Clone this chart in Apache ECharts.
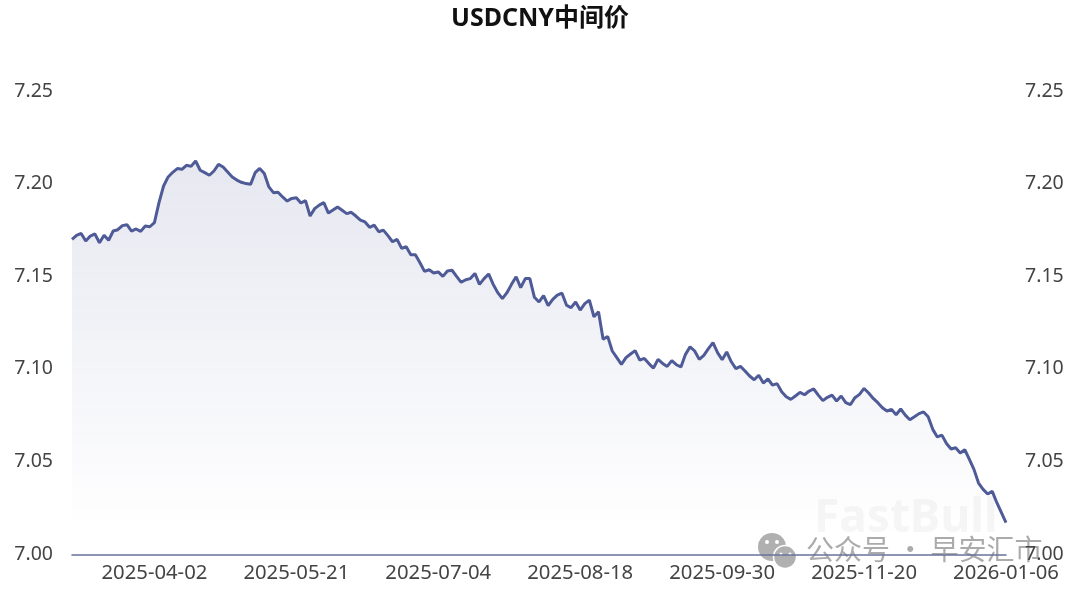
<!DOCTYPE html>
<html>
<head>
<meta charset="utf-8">
<title>USDCNY中间价</title>
<script src="https://cdn.jsdelivr.net/npm/echarts@6/dist/echarts.min.js"></script>
<style>
html, body { margin: 0; padding: 0; background: #fff; }
#chart { width: 1080px; height: 595px; }
</style>
</head>
<body>
<div id="chart"></div>
<script>
var arrDates = [
    '2025-03-07', '2025-03-10', '2025-03-11', '2025-03-12', '2025-03-13', '2025-03-14',
    '2025-03-17', '2025-03-18', '2025-03-19', '2025-03-20', '2025-03-21',
    '2025-03-24', '2025-03-25', '2025-03-26', '2025-03-27', '2025-03-28',
    '2025-03-31', '2025-04-01', '2025-04-02', '2025-04-03',
    '2025-04-07', '2025-04-08', '2025-04-09', '2025-04-10', '2025-04-11',
    '2025-04-14', '2025-04-15', '2025-04-16', '2025-04-17', '2025-04-18',
    '2025-04-21', '2025-04-22', '2025-04-23', '2025-04-24', '2025-04-25',
    '2025-04-28', '2025-04-29', '2025-04-30',
    '2025-05-06', '2025-05-07', '2025-05-08', '2025-05-09',
    '2025-05-12', '2025-05-13', '2025-05-14', '2025-05-15', '2025-05-16',
    '2025-05-19', '2025-05-20', '2025-05-21', '2025-05-22', '2025-05-23',
    '2025-05-26', '2025-05-27', '2025-05-28', '2025-05-29', '2025-05-30',
    '2025-06-03', '2025-06-04', '2025-06-05', '2025-06-06',
    '2025-06-09', '2025-06-10', '2025-06-11', '2025-06-12', '2025-06-13',
    '2025-06-16', '2025-06-17', '2025-06-18', '2025-06-19', '2025-06-20',
    '2025-06-23', '2025-06-24', '2025-06-25', '2025-06-26', '2025-06-27',
    '2025-06-30', '2025-07-01', '2025-07-02', '2025-07-03', '2025-07-04',
    '2025-07-07', '2025-07-08', '2025-07-09', '2025-07-10', '2025-07-11',
    '2025-07-14', '2025-07-15', '2025-07-16', '2025-07-17', '2025-07-18',
    '2025-07-21', '2025-07-22', '2025-07-23', '2025-07-24', '2025-07-25',
    '2025-07-28', '2025-07-29', '2025-07-30', '2025-07-31', '2025-08-01',
    '2025-08-04', '2025-08-05', '2025-08-06', '2025-08-07', '2025-08-08',
    '2025-08-11', '2025-08-12', '2025-08-13', '2025-08-14', '2025-08-15',
    '2025-08-18', '2025-08-19', '2025-08-20', '2025-08-21', '2025-08-22',
    '2025-08-25', '2025-08-26', '2025-08-27', '2025-08-28', '2025-08-29',
    '2025-09-01', '2025-09-02', '2025-09-03', '2025-09-04', '2025-09-05',
    '2025-09-08', '2025-09-09', '2025-09-10', '2025-09-11', '2025-09-12',
    '2025-09-15', '2025-09-16', '2025-09-17', '2025-09-18', '2025-09-19',
    '2025-09-22', '2025-09-23', '2025-09-24', '2025-09-25', '2025-09-26',
    '2025-09-29', '2025-09-30', '2025-10-09', '2025-10-10',
    '2025-10-13', '2025-10-14', '2025-10-15', '2025-10-16', '2025-10-17',
    '2025-10-20', '2025-10-21', '2025-10-22', '2025-10-23', '2025-10-24',
    '2025-10-27', '2025-10-28', '2025-10-29', '2025-10-30', '2025-10-31',
    '2025-11-03', '2025-11-04', '2025-11-05', '2025-11-06', '2025-11-07',
    '2025-11-10', '2025-11-11', '2025-11-12', '2025-11-13', '2025-11-14',
    '2025-11-17', '2025-11-18', '2025-11-19', '2025-11-20', '2025-11-21',
    '2025-11-24', '2025-11-25', '2025-11-26', '2025-11-27', '2025-11-28',
    '2025-12-01', '2025-12-02', '2025-12-03', '2025-12-04', '2025-12-05',
    '2025-12-08', '2025-12-09', '2025-12-10', '2025-12-11', '2025-12-12',
    '2025-12-15', '2025-12-16', '2025-12-17', '2025-12-18', '2025-12-19',
    '2025-12-22', '2025-12-23', '2025-12-24', '2025-12-25', '2025-12-26',
    '2025-12-29', '2025-12-30', '2025-12-31', '2026-01-05', '2026-01-06'
];
var arrFixing = [
    7.1699, 7.1721, 7.1731, 7.1690, 7.1717, 7.1728, 7.1681, 7.1721, 7.1694, 7.1744,
    7.1751, 7.1773, 7.1778, 7.1744, 7.1755, 7.1742, 7.1771, 7.1767, 7.1789, 7.1897,
    7.1987, 7.2036, 7.2061, 7.2081, 7.2077, 7.2099, 7.2093, 7.2122, 7.2072, 7.2059,
    7.2045, 7.2068, 7.2104, 7.2090, 7.2063, 7.2036, 7.2019, 7.2007, 7.2000, 7.1996,
    7.2059, 7.2082, 7.2055, 7.1982, 7.1951, 7.1953, 7.1928, 7.1906, 7.1920, 7.1924,
    7.1895, 7.1908, 7.1825, 7.1865, 7.1884, 7.1897, 7.1841, 7.1857, 7.1874, 7.1856,
    7.1838, 7.1845, 7.1825, 7.1803, 7.1793, 7.1764, 7.1776, 7.1740, 7.1749, 7.1719,
    7.1686, 7.1699, 7.1650, 7.1659, 7.1616, 7.1616, 7.1573, 7.1526, 7.1535, 7.1517,
    7.1523, 7.1499, 7.1528, 7.1532, 7.1499, 7.1467, 7.1481, 7.1487, 7.1515, 7.1456,
    7.1487, 7.1512, 7.1456, 7.1411, 7.1379, 7.1411, 7.1456, 7.1497, 7.1438, 7.1487,
    7.1487, 7.1386, 7.1361, 7.1395, 7.1341, 7.1375, 7.1398, 7.1409, 7.1344, 7.1330,
    7.1361, 7.1317, 7.1352, 7.1371, 7.1281, 7.1308, 7.1159, 7.1175, 7.1096, 7.1060,
    7.1024, 7.1060, 7.1080, 7.1098, 7.1047, 7.1056, 7.1028, 7.1004, 7.1051, 7.1029,
    7.1013, 7.1044, 7.1022, 7.1010, 7.1078, 7.1119, 7.1096, 7.1051, 7.1073, 7.1109,
    7.1141, 7.1087, 7.1049, 7.1091, 7.1038, 7.1001, 7.1013, 7.0988, 7.0961, 7.0941,
    7.0965, 7.0923, 7.0945, 7.0912, 7.0920, 7.0876, 7.0849, 7.0835, 7.0853, 7.0873,
    7.0860, 7.0880, 7.0891, 7.0858, 7.0828, 7.0846, 7.0858, 7.0826, 7.0853, 7.0817,
    7.0806, 7.0844, 7.0862, 7.0894, 7.0869, 7.0840, 7.0817, 7.0790, 7.0772, 7.0781,
    7.0752, 7.0783, 7.0750, 7.0725, 7.0741, 7.0758, 7.0767, 7.0741, 7.0673, 7.0632,
    7.0642, 7.0597, 7.0567, 7.0574, 7.0545, 7.0563, 7.0511, 7.0457, 7.0383, 7.0349,
    7.0324, 7.0338, 7.0277, 7.0223, 7.0169
];
var arrLabelDates = ['2025-04-02', '2025-05-21', '2025-07-04', '2025-08-18', '2025-09-30', '2025-11-20', '2026-01-06'];

var strFont = '"Noto Sans", "Noto Sans CJK SC", sans-serif';
var strLineColor = '#4f5b97';

var _yAxis = function (strPos, iMargin) {
    return {
        type: 'value',
        position: strPos,
        min: 7,
        max: 7.25,
        interval: 0.05,
        axisLine: { show: false },
        axisTick: { show: false },
        splitLine: { show: false },
        axisLabel: {
            margin: iMargin,
            padding: [2, 0, 0, 0],
            color: '#444',
            fontFamily: strFont,
            fontSize: 19.5,
            formatter: function (v) { return v.toFixed(2); }
        }
    };
};

var oChart = echarts.init(document.getElementById('chart'));
oChart.setOption({
    animation: false,
    title: {
        text: 'USDCNY中间价',
        left: 'center',
        top: 1,
        textStyle: { color: '#111', fontFamily: strFont, fontSize: 25, fontWeight: 'bold' }
    },
    grid: { left: 72, right: 74, top: 91, bottom: 41 },
    xAxis: {
        type: 'category',
        boundaryGap: false,
        data: arrDates,
        offset: 1,
        axisLine: { lineStyle: { color: '#67739b', width: 1.5 } },
        axisTick: { show: false },
        splitLine: { show: false },
        axisLabel: {
            color: '#444',
            fontFamily: strFont,
            fontSize: 20.3,
            margin: 8,
            interval: function (idx, val) { return arrLabelDates.indexOf(val) >= 0; }
        }
    },
    yAxis: [_yAxis('left', 19), _yAxis('right', 19)],
    series: [{
        name: 'USDCNY中间价',
        type: 'line',
        data: arrFixing,
        symbol: 'none',
        smooth: false,
        lineStyle: { color: strLineColor, width: 3 },
        areaStyle: {
            color: new echarts.graphic.LinearGradient(0, 0, 0, 1, [
                { offset: 0, color: 'rgba(79,91,151,0.2)' },
                { offset: 0.95, color: 'rgba(79,91,151,0)' }
            ])
        }
    }],
    // 水印
    graphic: [
        {
            type: 'text', left: 814, top: 496, silent: true,
            style: { text: 'FastBull', fill: '#f6f6f6', font: 'bold 46px "Noto Sans", sans-serif' }
        },
        {
            type: 'circle', silent: true, shape: { cx: 772, cy: 547, r: 14 },
            style: { fill: '#b0b0b0' }
        },
        {
            type: 'circle', silent: true, shape: { cx: 785, cy: 557, r: 11.5 },
            style: { fill: '#b0b0b0', stroke: '#fff', lineWidth: 1.5 }
        },
        { type: 'circle', silent: true, shape: { cx: 767, cy: 542, r: 2 }, style: { fill: '#fff' } },
        { type: 'circle', silent: true, shape: { cx: 777, cy: 542, r: 2 }, style: { fill: '#fff' } },
        { type: 'circle', silent: true, shape: { cx: 781, cy: 554, r: 1.6 }, style: { fill: '#fff' } },
        { type: 'circle', silent: true, shape: { cx: 790, cy: 554, r: 1.6 }, style: { fill: '#fff' } },
        {
            type: 'text', left: 806, top: 535, silent: true,
            style: { text: '公众号 · 早安汇市', fill: 'rgba(150,150,150,0.8)', font: '28px "Noto Sans CJK SC", sans-serif' }
        }
    ]
});
</script>
</body>
</html>
